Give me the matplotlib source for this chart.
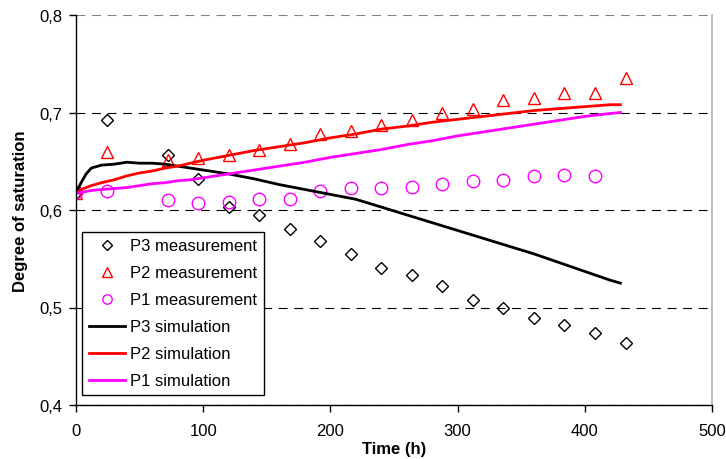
import matplotlib
matplotlib.use("Agg")
import matplotlib.pyplot as plt
from matplotlib.ticker import FixedLocator, FuncFormatter

plt.rcParams['font.family'] = ['Liberation Sans', 'DejaVu Sans']

# Measurements (time in hours)
t_meas = [0, 24, 72, 96, 120, 144, 168, 192, 216, 240, 264, 288, 312, 336, 360, 384, 408, 432]
p3_meas = [0.617, 0.692, 0.656, 0.632, 0.603, 0.595, 0.581, 0.568, 0.555, 0.541, 0.533, 0.522,
           0.508, 0.499, 0.489, 0.482, 0.474, 0.464]
p2_meas = [0.617, 0.660, 0.651, 0.653, 0.656, 0.662, 0.668, 0.678, 0.681, 0.687, 0.692, 0.699,
           0.704, 0.713, 0.715, 0.720, 0.720, 0.735]
t_p1 = [0, 24, 72, 96, 120, 144, 168, 192, 216, 240, 264, 288, 312, 336, 360, 384, 408]
p1_meas = [0.618, 0.620, 0.610, 0.607, 0.608, 0.611, 0.611, 0.619, 0.623, 0.623, 0.624, 0.627,
           0.630, 0.631, 0.635, 0.636, 0.635]

# Simulations
t_sim = [0, 4, 8, 12, 20, 30, 40, 50, 60, 70, 80, 90, 100, 120, 140, 160, 180, 200, 220, 240,
         260, 280, 300, 320, 340, 360, 380, 400, 420, 428]
p3_sim = [0.617, 0.628, 0.637, 0.643, 0.646, 0.647, 0.649, 0.648, 0.648, 0.647, 0.645, 0.643,
          0.641, 0.637, 0.632, 0.626, 0.621, 0.616, 0.611, 0.603, 0.595, 0.587, 0.579, 0.571,
          0.563, 0.555, 0.546, 0.537, 0.528, 0.525]
p2_sim = [0.617, 0.621, 0.623, 0.625, 0.628, 0.631, 0.635, 0.638, 0.640, 0.643, 0.645, 0.648,
          0.651, 0.656, 0.661, 0.665, 0.669, 0.674, 0.678, 0.683, 0.686, 0.690, 0.693, 0.696,
          0.699, 0.702, 0.704, 0.706, 0.708, 0.708]
p1_sim = [0.617, 0.618, 0.619, 0.620, 0.621, 0.622, 0.623, 0.625, 0.627, 0.628, 0.630, 0.631,
          0.633, 0.637, 0.641, 0.645, 0.649, 0.654, 0.658, 0.662, 0.667, 0.671, 0.676, 0.680,
          0.684, 0.688, 0.692, 0.696, 0.699, 0.700]

x_ticks = [0, 100, 200, 300, 400, 500]
y_ticks = [0.4, 0.5, 0.6, 0.7, 0.8]

fig = plt.figure(figsize=(7.26, 4.60), dpi=100)
ax = fig.add_axes([76/726, 1-406/460, 636/726, 390/460])

ax.plot(t_meas, p3_meas, linestyle='none', marker='D', ms=6.6, mfc='none', mec='black', mew=1.0,
        label='P3 measurement')
ax.plot(t_meas, p2_meas, linestyle='none', marker='^', ms=9, mfc='none', mec='#ff0000', mew=1.0,
        label='P2 measurement')
ax.plot(t_p1, p1_meas, linestyle='none', marker='o', ms=9, mfc='none', mec='#ff00ff', mew=1.0,
        label='P1 measurement')
ax.plot(t_sim, p3_sim, color='black', lw=2.0, label='P3 simulation')
ax.plot(t_sim, p2_sim, color='#ff0000', lw=2.0, label='P2 simulation')
ax.plot(t_sim, p1_sim, color='#ff00ff', lw=2.0, label='P1 simulation')

ax.set_xlim(0, 500)
ax.set_ylim(0.4, 0.8)
ax.xaxis.set_major_locator(FixedLocator(x_ticks))
ax.yaxis.set_major_locator(FixedLocator(y_ticks))
ax.yaxis.set_major_formatter(FuncFormatter(lambda v, p: f"{v:.1f}".replace('.', ',')))

ax.tick_params(axis='both', direction='out', length=5, width=1, colors='black', labelsize=12)
ax.tick_params(axis='x', pad=8)
ax.tick_params(axis='y', pad=5)

ax.yaxis.grid(True, color='black', lw=0.8, linestyle=(0, (8, 6)))
ax.set_axisbelow(True)
ax.get_ygridlines()[-1].set_color('#808080')

ax.spines['top'].set_visible(False)
ax.spines['right'].set_color('#b0b0b0')
ax.spines['right'].set_linewidth(1.2)
ax.spines['left'].set_linewidth(1)
ax.spines['bottom'].set_linewidth(1)

ax.set_xlabel('Time (h)', fontsize=12, fontweight='bold', labelpad=2)
ax.set_ylabel('Degree of saturation', fontsize=12, fontweight='bold', labelpad=8)

leg = ax.legend(loc='lower left', bbox_to_anchor=(6/636, 10/390), borderaxespad=0,
                fontsize=12, frameon=True, fancybox=False, edgecolor='black', framealpha=1,
                handlelength=2.2, handletextpad=0.3, labelspacing=0.72, borderpad=0.4,
                markerscale=0.75)
leg.get_frame().set_linewidth(1)

fig.savefig('out.png', dpi=100, facecolor='white')
